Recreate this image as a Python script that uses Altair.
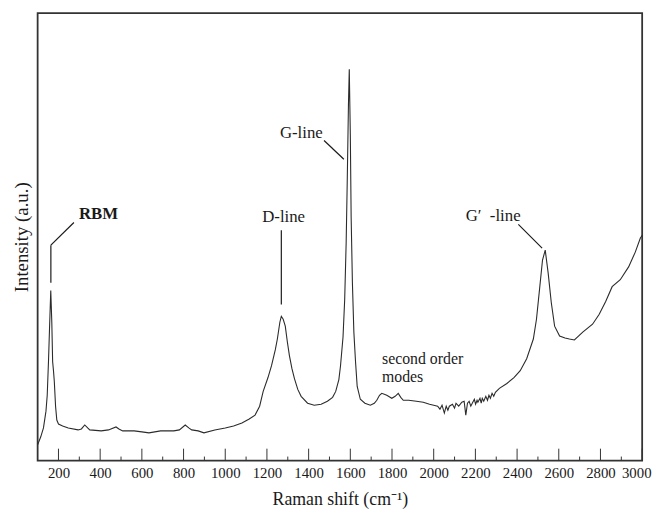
import altair as alt
import pandas as pd

# Raman spectrum (x: Raman shift cm-1, y: intensity, arbitrary units)
shift = [100, 115, 128, 140, 146, 152, 158, 163, 168, 172, 176, 180, 186, 192, 200, 220, 247, 294, 310, 326,
         340, 350, 405, 440, 476, 490, 508, 563, 600, 634, 690, 753, 780, 808, 825, 839, 870, 898, 950, 1000,
         1040, 1080, 1115, 1143, 1165, 1182, 1205, 1222, 1240, 1250, 1262, 1269, 1278, 1288, 1298, 1308, 1320,
         1332, 1348, 1364, 1395, 1427, 1460, 1490, 1515, 1530, 1545, 1553, 1565, 1573, 1580, 1585, 1591, 1595,
         1600, 1604, 1610, 1617, 1625, 1633, 1648, 1670, 1696, 1715, 1727, 1740, 1751, 1775, 1799, 1815, 1830,
         1842, 1854, 1880, 1917, 1950, 1980, 2000, 2019, 2030, 2040, 2051, 2060, 2068, 2075, 2090, 2100, 2107,
         2120, 2135, 2146, 2154, 2162, 2170, 2178, 2185, 2195, 2201, 2208, 2212, 2222, 2228, 2233, 2240, 2250,
         2258, 2265, 2272, 2280, 2288, 2296, 2315, 2351, 2385,
         2415, 2446, 2478, 2493, 2509, 2522, 2535, 2549, 2564, 2580, 2604, 2630, 2651, 2675, 2715, 2762, 2794,
         2825, 2856, 2895, 2935, 2967, 2991, 3000]
intensity = [16, 24, 33, 50, 66, 100, 140, 172, 140, 100, 91, 80, 55, 41, 37, 35, 33, 31, 32, 36,
             33, 31, 30, 31, 34, 32, 30, 30, 29, 28, 30, 30, 31, 36, 33, 31, 30, 28, 31, 33,
             35, 38, 42, 46, 55, 70, 84, 96, 112, 123, 140, 146, 143, 136, 120, 106, 93,
             83, 72, 65, 58, 56, 57, 60, 64, 70, 82, 96, 125, 163, 220, 280, 360, 396,
             330, 246, 180, 130, 100, 75, 62, 58, 56, 58, 61, 66, 68, 66, 63, 65, 68,
             64, 61, 61, 60, 59, 57, 56, 55, 52, 56, 48, 55, 51, 55, 57, 53, 58,
             55, 59, 60, 46, 58, 60, 55, 58, 62, 57, 61, 59, 63, 58, 63, 60, 65,
             61, 66, 63, 68, 65, 69, 73, 78, 84,
             91, 103, 123, 143, 176, 203, 213, 190, 160, 136, 126, 124, 123, 122, 130, 138, 148,
             161, 176, 183, 196, 211, 225, 228]

tick_major = list(range(200, 3001, 200))
tick_minor = list(range(300, 3000, 200))

# annotation leader lines (data coordinates)
leader_x1 = [163.5, 163.5, 1269, 1474, 2406]
leader_y1 = [180, 218, 158, 324, 239]
leader_x2 = [163.5, 274, 1269, 1569, 2520]
leader_y2 = [218, 241, 233, 305, 215]

# peak labels
rbm_text, rbm_x, rbm_y = ["RBM"], [298], [250]
peak_text = ["D-line", "G-line", "G\u2032\u00a0\u00a0-line"]
peak_x = [1280, 1365, 2285]
peak_y = [246, 332, 247]
second_text = ["second order", "modes"]
second_x = [1752, 1752]
second_y = [102.5, 84.5]

serif = "Liberation Serif"
ink = "#1a1a1a"

df = pd.DataFrame({"shift": shift, "intensity": intensity})
xscale = alt.Scale(domain=[100, 3000], nice=False, zero=False)
yscale = alt.Scale(domain=[0, 453], nice=False, zero=False)

line = alt.Chart(df).mark_line(color="#2b2b2b", strokeWidth=1.1).encode(
    x=alt.X("shift:Q", scale=xscale, axis=alt.Axis(
        values=tick_major, format="d", ticks=False, domain=False, grid=False,
        labelFont=serif, labelFontSize=15, labelColor=ink, labelPadding=5,
        labelFlush=True, labelFlushOffset=9,
        title="Raman shift (cm\u207b\u00b9)", titleFont=serif, titleFontSize=18,
        titleFontWeight="normal", titleColor=ink, titlePadding=11)),
    y=alt.Y("intensity:Q", scale=yscale, axis=alt.Axis(
        labels=False, ticks=False, domain=False, grid=False,
        title="Intensity (a.u.)", titleFont=serif, titleFontSize=19, titleFontWeight="normal",
        titleColor=ink, titlePadding=6)),
)

major = alt.Chart(pd.DataFrame({"shift": tick_major})).mark_rule(color="#333", strokeWidth=1).encode(
    x=alt.X("shift:Q", scale=xscale), y=alt.value(453), y2=alt.value(441))
minor = alt.Chart(pd.DataFrame({"shift": tick_minor})).mark_rule(color="#333", strokeWidth=1).encode(
    x=alt.X("shift:Q", scale=xscale), y=alt.value(453), y2=alt.value(449))

leaders = alt.Chart(pd.DataFrame({"shift": leader_x1, "intensity": leader_y1,
                                  "x2": leader_x2, "y2": leader_y2})).mark_rule(
    color=ink, strokeWidth=1.2).encode(
    x=alt.X("shift:Q", scale=xscale), y=alt.Y("intensity:Q", scale=yscale),
    x2="x2:Q", y2="y2:Q")

rbm = alt.Chart(pd.DataFrame({"t": rbm_text, "shift": rbm_x, "intensity": rbm_y})).mark_text(
    font=serif, fontSize=17, fontWeight="bold", align="left", baseline="middle", color=ink).encode(
    x=alt.X("shift:Q", scale=xscale), y=alt.Y("intensity:Q", scale=yscale), text="t:N")

peaks = alt.Chart(pd.DataFrame({"t": peak_text, "shift": peak_x, "intensity": peak_y})).mark_text(
    font=serif, fontSize=17, align="center", baseline="middle", color=ink).encode(
    x=alt.X("shift:Q", scale=xscale), y=alt.Y("intensity:Q", scale=yscale), text="t:N")

second = alt.Chart(pd.DataFrame({"t": second_text, "shift": second_x, "intensity": second_y})).mark_text(
    font=serif, fontSize=16, align="left", baseline="middle", color=ink).encode(
    x=alt.X("shift:Q", scale=xscale), y=alt.Y("intensity:Q", scale=yscale), text="t:N")

chart = alt.layer(line, major, minor, leaders, rbm, peaks, second).properties(
    width=612, height=453,
    autosize=alt.AutoSizeParams(type="none"),
    padding={"left": 30, "top": 2, "right": 13, "bottom": 50},
).configure_view(stroke="#333", strokeWidth=1.8)

chart.save("out.html", embed_options={"renderer": "svg", "actions": False})
